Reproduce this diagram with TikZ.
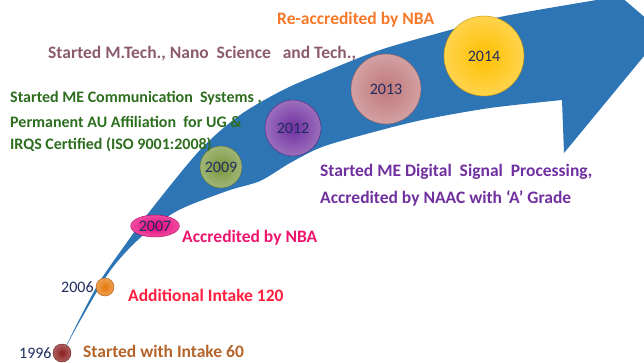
\documentclass[tikz,border=0pt]{standalone}
\usepackage{fontspec}
\setmainfont{Carlito}
\usepackage{tikz}
\usetikzlibrary{positioning}
\usetikzlibrary{shapes}
\definecolor{arrowblue}{RGB}{46,117,182}
\definecolor{navy}{RGB}{31,45,96}
\definecolor{cRed}{RGB}{140,30,30}
\definecolor{cOrange}{RGB}{230,120,10}
\definecolor{cPink}{RGB}{232,0,120}
\definecolor{cOlive}{RGB}{120,150,60}
\definecolor{cPurple}{RGB}{112,48,160}
\definecolor{cRose}{RGB}{192,120,122}
\definecolor{cGold}{RGB}{255,192,0}
\definecolor{tOrange}{RGB}{247,120,40}
\definecolor{tMauve}{RGB}{140,90,110}
\definecolor{tGreen}{RGB}{45,110,30}
\definecolor{tPurple}{RGB}{112,48,160}
\definecolor{tPink}{RGB}{240,20,110}
\definecolor{tRed}{RGB}{255,30,60}
\definecolor{tBrown}{RGB}{180,100,40}
\tikzstyle{year}=[font=\fontsize{16}{18}\selectfont,text=navy,inner sep=1pt]
\tikzstyle{event}=[font=\bfseries\fontsize{17.5}{20}\selectfont,anchor=west,inner sep=0pt]
\tikzstyle{smallevent}=[event,font=\bfseries\fontsize{16}{18}\selectfont]
\tikzset{ball/.style={circle,draw=#1!75!black,inner color=#1,outer color=#1!70!white,inner sep=0pt}}

\begin{document}
\begin{tikzpicture}[x=1pt,y=-1pt]
    \useasboundingbox (0,0) rectangle (644,362);
    \clip (0,0) rectangle (644,362);

    % the big curved arrow
    \fill[arrowblue] plot[smooth] coordinates {(60,358) (80,318) (100,281) (125,245) (150,211) (200,150) (240,115) (283,90) (322,73) (380,50) (450,30) (500,17) (555,7)}
        -- (620,-4) -- (663,33) -- (564,153) -- (562,100)
        -- plot[smooth] coordinates {(562,100) (490,108) (422,120) (370,133) (322,147) (290,163) (260,181) (227,191) (177,211) (140,238) (110,271) (80,321) (60,358)} -- cycle;

    % milestones
    \node[ball=cRed, minimum size=18pt] (y1996) at (62,353) {};
    \node[ball=cOrange, minimum size=18pt] (y2006) at (105,287) {};
    \node[ball=cPink, ellipse, minimum width=38pt, minimum height=22pt, year] (y2007) at (155,226) {2007};
    \foreach \pos/ \name/ \col/ \size in {{(221,167)/2009/cOlive/42pt}, {(293,128)/2012/cPurple/56pt}, {(386,89)/2013/cRose/70pt}, {(484,56)/2014/cGold/80pt}}
        \node[ball=\col, minimum size=\size, year] (y\name) at \pos {\name};

    \node[year, left=0pt of y1996] (t1996) {1996};
    \node[year, left=1pt of y2006] (t2006) {2006};

    % what happened
    \node[event, text=tBrown] (e1996) at (83,351) {Started with Intake 60};
    \node[event, text=tRed] (e2006) at (128,295) {Additional Intake 120};
    \node[event, text=tPink] (e2007) at (182,238) {Accredited by NBA};
    \node[smallevent, text=tGreen] (e2009a) at (10,98) {Started ME Communication\ \ Systems ,};
    \node[smallevent, text=tGreen] (e2009b) at (10,122) {Permanent AU Affiliation\ \ for UG \&};
    \node[smallevent, text=tGreen] (e2009c) at (10,145) {IRQS Certified (ISO 9001:2008)};
    \node[event, text=tPurple] (e2012a) at (320,172) {Started ME Digital\ \ Signal\ \ Processing,};
    \node[event, text=tPurple] (e2012b) at (320,198) {Accredited by NAAC with ‘A’ Grade};
    \node[event, text=tMauve] (e2013) at (48,54) {Started M.Tech., Nano\ \ Science\ \ \ and Tech.,};
    \node[event, text=tOrange] (e2014) at (277,20) {Re-accredited by NBA};

\end{tikzpicture}
\end{document}
